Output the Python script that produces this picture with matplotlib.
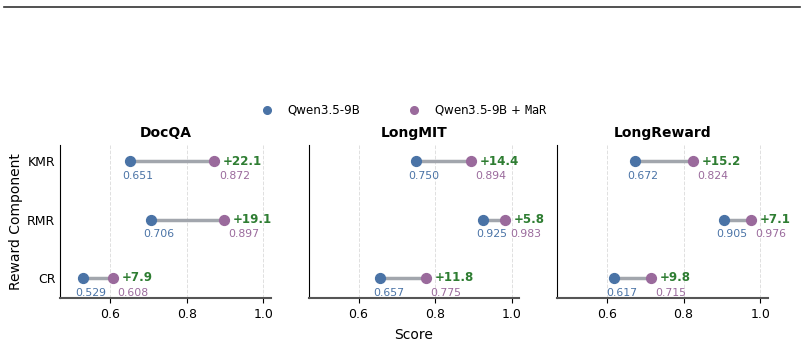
import matplotlib.pyplot as plt
from matplotlib.lines import Line2D

# data
datasets = ['DocQA', 'LongMIT', 'LongReward']
components = ['CR', 'RMR', 'KMR']
base_scores = {
    'DocQA': [0.529, 0.706, 0.651],
    'LongMIT': [0.657, 0.925, 0.750],
    'LongReward': [0.617, 0.905, 0.672],
}
mar_scores = {
    'DocQA': [0.608, 0.897, 0.872],
    'LongMIT': [0.775, 0.983, 0.894],
    'LongReward': [0.715, 0.976, 0.824],
}

BLUE = '#4a73a6'
PURPLE = '#9a6a9c'
GREEN = '#2e7d32'
LINE = '#a2a6ad'

fig, axes = plt.subplots(1, 3, figsize=(8.04, 3.45), dpi=100)
fig.subplots_adjust(left=0.075, right=0.955, top=0.58, bottom=0.135, wspace=0.18)

for ax, name in zip(axes, datasets):
    b = base_scores[name]
    m = mar_scores[name]
    ys = list(range(len(components)))
    for y, v0, v1 in zip(ys, b, m):
        ax.plot([v0, v1], [y, y], color=LINE, lw=2.5, zorder=2)
        ax.annotate(f'{v0:.3f}', (v0, y), xytext=(6, -7), textcoords='offset points',
                    ha='center', va='top', fontsize=7.8, color=BLUE)
        ax.annotate(f'{v1:.3f}', (v1, y), xytext=(14.5, -7), textcoords='offset points',
                    ha='center', va='top', fontsize=7.8, color=PURPLE)
        ax.annotate(f'+{(v1 - v0) * 100:.1f}', (v1, y), xytext=(6.5, 0), textcoords='offset points',
                    ha='left', va='center', fontsize=8.6, color=GREEN, fontweight='bold')
    ax.scatter(b, ys, s=50, color=BLUE, zorder=3)
    ax.scatter(m, ys, s=50, color=PURPLE, zorder=3)

    ax.set_xlim(0.47, 1.02)
    ax.set_ylim(-0.35, 2.28)
    ax.set_xticks([0.6, 0.8, 1.0])
    ax.set_yticks(ys)
    ax.set_title(name, fontsize=10, fontweight='bold', pad=6)
    ax.grid(axis='x', color='#e0e0e0', ls='--', lw=0.7)
    ax.set_axisbelow(True)
    for s in ['top', 'right']:
        ax.spines[s].set_visible(False)
    ax.spines['left'].set_color('black')
    ax.spines['bottom'].set_color('#555555')
    ax.spines['bottom'].set_linewidth(1.5)
    ax.tick_params(axis='x', labelsize=9)
    ax.tick_params(axis='y', labelsize=9, length=0)

axes[0].set_yticklabels(components)
axes[1].set_yticklabels([])
axes[2].set_yticklabels([])
axes[0].set_ylabel('Reward Component', fontsize=10, labelpad=3)
axes[1].set_xlabel('Score', fontsize=10, labelpad=5)

handles = [
    Line2D([], [], marker='o', ls='', color=BLUE, markersize=5.5, label='Qwen3.5-9B'),
    Line2D([], [], marker='o', ls='', color=PURPLE, markersize=5.5, label=r'Qwen3.5-9B + $\mathtt{MaR}$'),
]
fig.legend(handles=handles, loc='center', bbox_to_anchor=(0.503, 0.68), ncol=2,
           frameon=False, fontsize=8.6, columnspacing=4.0, handletextpad=1.2,
           handlelength=1.0)

# top rule
fig.add_artist(Line2D([0.005, 0.995], [0.98, 0.98], transform=fig.transFigure,
                      color='#333333', lw=1.2))

fig.savefig('out.png', dpi=100)
